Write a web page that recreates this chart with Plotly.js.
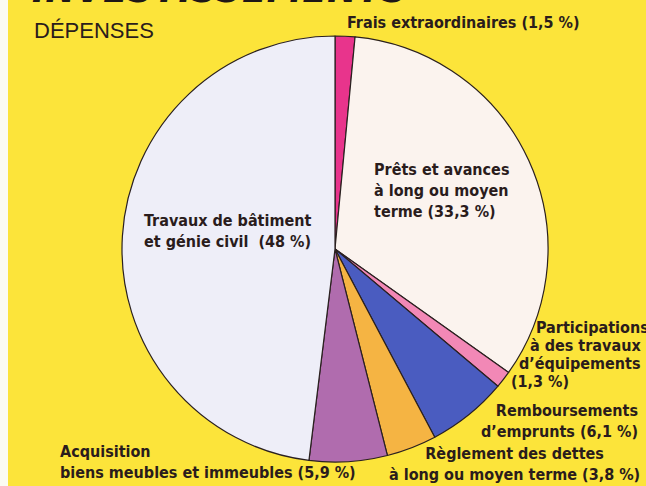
<!DOCTYPE html>
<html><head><meta charset="utf-8">
<script src="https://cdn.plot.ly/plotly-3.0.1.min.js"></script>
<style>html,body{margin:0;padding:0;background:#fce43a;}</style>
</head><body>
<div id="chart" style="width:646px;height:486px;"></div>
<script>
const categories = [
  "Frais extraordinaires",
  "Prêts et avances à long ou moyen terme",
  "Participations à des travaux d'équipements",
  "Remboursements d'emprunts",
  "Règlement des dettes à long ou moyen terme",
  "Acquisition biens meubles et immeubles",
  "Travaux de bâtiment et génie civil"
];
const values = [1.5, 33.3, 1.3, 6.1, 3.8, 5.9, 48];
const colors = ["#e8348c", "#fbf3ee", "#f288b6", "#4a5cc0", "#f5b443", "#b06cae", "#eeeef8"];

const F = "'DejaVu Sans Condensed', 'Liberation Sans Narrow', 'Arial Narrow', 'Liberation Sans', Arial, sans-serif";
const lab = (text, x, y, xanchor, align, size) => ({
  text, x, y, xref: "paper", yref: "paper", xanchor, yanchor: "middle", align,
  showarrow: false, font: {family: F, size: size || 16, color: "#2a1c1c", weight: "bold"}
});
const px = v => v / 646, py = v => 1 - v / 486;

const layout = {
  width: 646, height: 486,
  margin: {l: 0, r: 0, t: 0, b: 0},
  paper_bgcolor: "#fce43a",
  showlegend: false,
  shapes: [{type: "rect", xref: "paper", yref: "paper", x0: 0, x1: px(8), y0: 0, y1: 1,
            fillcolor: "#fbfbf2", line: {width: 0}, layer: "below"}],
  annotations: [
    {text: "<b><i>INVESTISSEMENTS</i></b>", x: px(30), y: py(13), xref: "paper", yref: "paper",
     xanchor: "left", yanchor: "bottom", showarrow: false,
     font: {family: F, size: 40, color: "#1e1616"}},
    {text: "DÉPENSES", x: px(32), y: py(30), xref: "paper", yref: "paper", xanchor: "left",
     yanchor: "middle", showarrow: false,
     font: {family: "'Liberation Sans', Arial, sans-serif", size: 22, color: "#2a1c1c"}},
    lab("Frais extraordinaires (1,5 %)", px(345), py(22), "left", "left"),
    lab("Prêts et avances<br>à long ou moyen<br>terme (33,3 %)", px(372), py(190), "left", "left"),
    lab("Travaux de bâtiment<br>et génie civil  (48 %)", px(142), py(231), "left", "left"),
    lab("Participations", px(651), py(327), "right", "right"),
    lab("à des travaux", px(643), py(345), "right", "right"),
    lab("d’équipements", px(643), py(363), "right", "right"),
    lab("(1,3 %)", px(509), py(381), "left", "left"),
    lab("Remboursements<br>d’emprunts (6,1 %)", px(640), py(421), "right", "right"),
    lab("Règlement des dettes<br>à long ou moyen terme (3,8 %)", px(514), py(464), "center", "center"),
    lab("Acquisition<br>biens meubles et immeubles (5,9 %)", px(58), py(462), "left", "left")
  ]
};

const data = [{
  type: "pie",
  labels: categories,
  values: values,
  sort: false,
  direction: "clockwise",
  rotation: 0,
  textinfo: "none",
  hoverinfo: "label+value",
  marker: {colors: colors, line: {color: "#2a2020", width: 1.2}},
  domain: {x: [px(122), px(548)], y: [py(462), py(36)]}
}];

Plotly.newPlot("chart", data, layout, {displayModeBar: false, staticPlot: true});
</script>
</body></html>
